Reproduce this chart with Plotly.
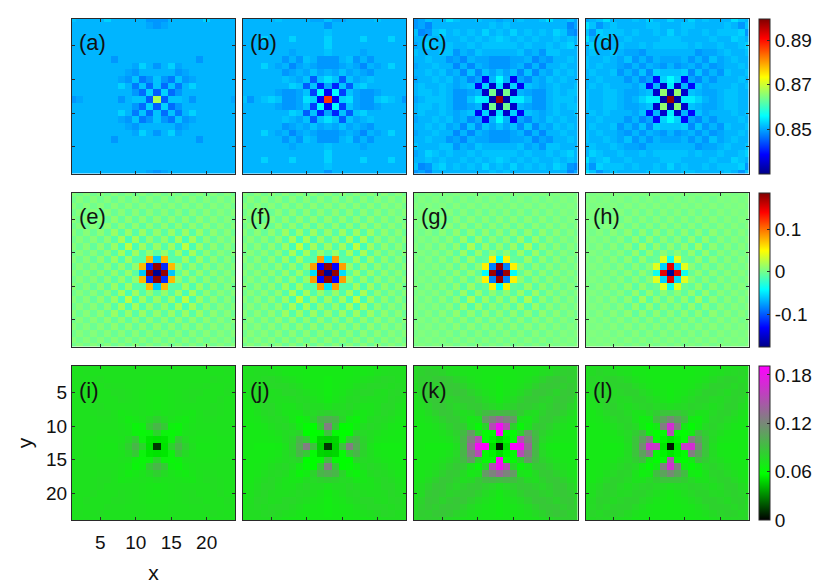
import plotly.graph_objects as go

# Values, in thousandths. Row = |y-13|, column = |x-13|; index 12 is the far edge.
Q_A = [
[868,845,852,852,851,849,851,851,851,851,851,850,849],
[845,853,846,849,851,851,851,851,851,851,851,851,851],
[852,846,852,847,851,853,851,851,851,851,851,851,851],
[852,849,847,852,849,850,851,851,851,851,851,851,851],
[851,851,851,849,850,851,851,851,851,851,851,851,851],
[849,851,853,850,851,851,851,851,851,851,851,851,851],
[851,851,851,851,851,851,849,851,851,851,851,851,851],
[851,851,851,851,851,851,851,851,851,851,851,851,851],
[851,851,851,851,851,851,851,851,851,851,851,851,851],
[851,851,851,851,851,851,851,851,851,851,851,851,851],
[851,851,851,851,851,851,851,851,851,851,851,851,851],
[849,850,851,851,851,851,851,851,851,851,851,851,851],
[849,849,851,851,851,851,851,853,851,851,851,851,852],
]
Q_B = [
[887,838,853,854,850,849,849,852,853,852,851,849,852],
[838,856,843,852,850,849,849,850,851,851,851,851,851],
[850,841,852,845,852,853,851,851,851,851,851,851,851],
[854,852,845,852,850,851,852,851,851,851,851,851,851],
[851,850,852,850,851,850,849,851,851,851,851,851,851],
[849,849,850,851,850,848,851,850,851,853,851,851,851],
[849,849,851,852,849,851,849,851,851,851,851,851,851],
[852,851,851,851,851,850,851,851,851,851,851,851,851],
[853,851,851,851,851,851,851,851,851,851,851,851,851],
[853,851,851,851,851,853,851,851,851,853,851,851,851],
[852,851,851,851,851,851,851,851,851,851,851,851,851],
[849,851,851,851,851,851,851,851,851,851,851,851,851],
[852,850,850,851,851,851,851,852,851,851,851,851,851],
]
Q_C = [
[897,832,855,855,852,849,849,851,852,852,852,851,850],
[832,864,835,851,850,849,849,851,852,851,852,852,851],
[854,835,853,838,852,851,850,851,852,851,851,852,851],
[856,851,838,850,848,851,850,852,851,852,851,851,850],
[852,850,852,848,852,848,851,850,852,851,852,851,851],
[849,849,850,851,848,851,848,851,851,852,851,851,850],
[849,849,850,850,851,848,850,849,851,851,852,851,851],
[851,851,851,852,850,851,849,852,852,851,851,851,852],
[852,852,852,851,852,851,851,852,851,852,853,851,850],
[853,852,851,852,851,852,851,851,852,851,852,851,851],
[852,851,853,851,852,851,852,851,853,852,849,848,852],
[851,852,851,851,851,851,851,851,851,851,848,850,849],
[850,851,851,852,851,851,852,854,851,851,852,850,849],
]
Q_D = [
[898,832,855,855,853,851,850,851,852,852,851,851,852],
[832,866,835,852,851,850,850,851,852,852,851,851,852],
[855,835,851,839,852,850,851,851,851,852,851,852,851],
[856,853,839,850,848,851,849,851,851,851,852,851,851],
[852,852,853,848,852,849,851,849,852,851,851,852,851],
[851,849,850,851,849,851,849,850,851,851,852,851,852],
[850,850,851,849,851,849,852,850,851,852,851,851,852],
[851,851,851,851,849,850,850,851,852,851,851,852,851],
[852,852,852,851,852,851,851,852,851,851,852,853,851],
[852,852,851,851,851,851,852,851,851,853,852,851,854],
[853,851,852,851,851,852,851,852,852,852,853,849,852],
[851,851,852,852,851,851,851,851,852,851,849,852,854],
[853,851,851,853,851,852,851,851,851,854,852,851,850],
]
Q_E = [
[-172,178,-60,-8,14,-8,12,-6,10,-3,8,-1,7],
[178,-115,75,12,-10,12,-8,10,-5,8,-2,7,0],
[-60,75,-8,-10,16,-12,14,-8,10,-5,8,-2,7],
[-8,12,-10,16,-14,18,-9,10,-5,8,-2,7,0],
[14,-10,16,-14,26,-14,14,-7,10,-5,8,-2,7],
[-8,12,-12,18,-14,18,-9,10,-5,8,-2,7,0],
[12,-8,14,-9,14,-9,14,-5,10,-3,8,-2,7],
[-6,10,-8,10,-7,10,-5,10,-3,8,-2,7,0],
[10,-5,10,-5,10,-5,10,-3,8,-2,7,0,7],
[-3,8,-5,8,-5,8,-3,8,-2,7,0,7,0],
[8,-2,8,-2,8,-2,8,-2,7,0,7,0,7],
[-1,7,-2,7,-2,7,-2,7,0,7,0,7,0],
[7,0,7,0,7,0,7,0,7,0,7,0,7],
]
Q_F = [
[-172,178,-52,-9,15,-9,13,-7,11,-4,9,-2,8],
[178,-130,85,13,-11,13,-9,11,-6,9,-3,8,0],
[-52,85,-8,-11,17,-13,15,-9,11,-6,9,-3,8],
[-9,13,-11,18,-15,19,-10,11,-6,9,-3,8,0],
[15,-11,17,-15,28,-15,15,-8,11,-6,9,-3,8],
[-9,13,-13,19,-15,19,-10,11,-6,9,-3,8,0],
[13,-9,15,-10,15,-10,15,-6,11,-4,9,-3,8],
[-7,11,-9,11,-8,11,-6,11,-4,9,-3,8,0],
[11,-6,11,-6,11,-6,11,-4,9,-3,8,0,8],
[-4,9,-6,9,-6,9,-4,9,-3,8,0,8,0],
[9,-3,9,-3,9,-3,9,-3,8,0,8,0,8],
[-2,8,-3,8,-3,8,-3,8,0,8,0,8,0],
[8,0,8,0,8,0,8,0,8,0,8,0,8],
]
Q_G = [
[-172,176,-40,-6,12,-6,10,-4,9,-2,7,0,6],
[176,-85,55,10,-8,10,-6,9,-3,7,0,6,2],
[-40,55,-4,-8,14,-9,11,-5,9,-3,7,0,6],
[-6,10,-8,14,-11,14,-7,9,-3,7,0,6,2],
[12,-8,14,-11,20,-11,11,-5,9,-3,7,0,6],
[-6,10,-9,14,-11,14,-7,9,-3,7,0,6,2],
[10,-6,11,-7,11,-7,11,-3,9,-2,7,0,6],
[-4,9,-5,9,-5,9,-3,9,-2,7,0,6,2],
[9,-3,9,-3,9,-3,9,-2,7,0,6,2,6],
[-2,7,-3,7,-3,7,-2,7,0,6,2,6,2],
[7,0,7,0,7,0,7,0,6,2,6,2,6],
[0,6,0,6,0,6,0,6,2,6,2,6,2],
[6,2,6,2,6,2,6,2,6,2,6,2,6],
]
Q_H = [
[-172,150,-35,-4,11,-5,9,-3,8,-1,7,1,6],
[150,-55,40,9,-6,9,-5,8,-2,7,1,6,3],
[-35,40,-2,-6,12,-8,10,-4,8,-2,7,1,6],
[-4,9,-6,12,-9,12,-6,8,-2,7,1,6,3],
[11,-6,12,-9,17,-9,10,-4,8,-2,7,1,6],
[-5,9,-8,12,-9,12,-6,8,-2,7,1,6,3],
[9,-5,10,-6,10,-6,10,-2,8,-1,7,1,6],
[-3,8,-4,8,-4,8,-2,8,-1,7,1,6,3],
[8,-2,8,-2,8,-2,8,-1,7,1,6,3,6],
[-1,7,-2,7,-2,7,-1,7,1,6,3,6,3],
[7,1,7,1,7,1,7,1,6,3,6,3,6],
[1,6,1,6,1,6,1,6,3,6,3,6,3],
[6,3,6,3,6,3,6,3,6,3,6,3,6],
]
Q_I = [
[13,51,80,95,82,74,70,70,71,72,72,73,73],
[51,52,64,85,76,72,71,71,71,72,72,73,73],
[80,64,62,65,72,73,72,72,72,73,73,73,73],
[95,85,65,63,70,72,73,73,73,73,73,73,73],
[82,76,72,70,68,71,73,74,74,73,73,73,73],
[74,72,73,72,71,70,73,75,75,74,73,73,73],
[70,71,72,73,73,73,73,73,75,74,73,73,73],
[70,71,72,73,74,75,73,73,73,75,73,73,73],
[71,71,72,73,74,75,75,73,73,73,75,73,73],
[72,72,73,73,73,74,74,75,73,73,74,73,73],
[72,72,73,73,73,73,73,73,75,74,73,74,73],
[73,73,73,73,73,73,73,73,73,73,74,73,73],
[73,73,73,73,73,73,73,73,73,73,73,73,73],
]
Q_J = [
[12,47,90,125,100,82,72,68,67,67,67,69,69],
[47,48,60,85,95,80,75,71,70,69,69,69,69],
[90,60,57,57,80,77,75,73,71,70,69,69,69],
[125,85,57,60,68,75,78,76,74,71,70,69,69],
[100,95,80,68,64,70,75,77,76,74,71,70,69],
[82,80,77,75,70,70,72,75,78,76,73,70,69],
[72,75,75,78,75,72,72,74,78,78,74,71,70],
[68,71,73,76,77,75,74,74,75,78,76,73,70],
[67,70,71,74,76,78,78,75,74,77,78,74,71],
[67,69,70,71,74,76,78,78,77,75,77,75,71],
[67,69,69,70,71,73,74,76,78,77,75,75,73],
[69,69,69,69,70,70,71,73,74,75,75,74,73],
[69,69,69,69,69,69,70,70,71,71,73,73,73],
]
Q_K = [
[5,50,190,185,135,92,74,69,68,68,68,70,70],
[50,55,60,152,122,95,78,73,71,70,70,70,70],
[190,60,60,80,110,92,81,76,73,71,70,70,70],
[185,152,80,62,72,84,85,81,76,73,71,70,70],
[135,122,110,72,70,76,84,85,81,76,73,71,71],
[92,95,92,84,76,74,81,85,86,81,76,72,71],
[74,78,81,85,84,81,78,82,86,85,80,75,72],
[69,73,76,81,85,85,82,80,84,86,84,76,73],
[68,71,73,76,81,86,86,84,80,85,86,80,75],
[68,70,71,73,76,81,85,86,85,82,85,82,76],
[68,70,70,71,73,76,80,84,86,85,82,83,78],
[70,70,70,71,71,72,75,76,80,82,83,81,78],
[70,70,70,70,71,71,72,73,75,76,78,78,76],
]
Q_L = [
[5,52,162,168,118,88,74,69,68,68,69,69,69],
[52,55,60,125,105,88,76,71,70,69,69,69,69],
[150,60,58,68,92,83,77,74,71,70,69,69,69],
[168,125,68,60,68,77,80,77,74,71,70,69,69],
[118,105,92,68,66,72,79,80,77,74,71,70,69],
[88,88,83,77,72,72,77,80,81,77,73,70,69],
[74,76,77,80,79,77,74,77,81,81,76,73,70],
[69,71,74,77,80,80,77,76,79,81,79,74,71],
[68,70,71,74,77,81,81,79,76,80,81,76,73],
[68,69,70,71,74,77,81,81,80,77,80,77,73],
[69,69,69,70,71,73,76,79,81,80,77,79,74],
[69,69,69,69,70,70,73,74,76,77,79,76,74],
[69,69,69,69,69,69,70,71,73,73,74,74,74],
]

LABELS = ["(a)","(b)","(c)","(d)","(e)","(f)","(g)","(h)","(i)","(j)","(k)","(l)"]
PANELS = [Q_A,Q_B,Q_C,Q_D,Q_E,Q_F,Q_G,Q_H,Q_I,Q_J,Q_K,Q_L]
GRID = list(range(1,25))
TICKS = [5,10,15,20]
CB_TICKS = [[0.85,0.87,0.89],[-0.1,0,0.1],[0,0.06,0.12,0.18]]
CB_TEXT = [["0.85","0.87","0.89"],["-0.1","0","0.1"],["0","0.06","0.12","0.18"]]
CB_RANGE = [(0.83,0.8995),(-0.176,0.186),(0,0.191)]

W,H = 817,587
COLS = [(72,235),(243,406),(414,577.5),(585.5,748.5)]
ROWS = [(19,173.5),(192.5,346.5),(366,520)]
JET = [[0,"rgb(0,0,135)"],[0.125,"rgb(0,0,255)"],[0.375,"rgb(0,255,255)"],
       [0.625,"rgb(255,255,0)"],[0.875,"rgb(255,0,0)"],[1,"rgb(128,0,0)"]]
GM = [[0,"rgb(0,0,0)"],[0.3,"rgb(0,255,0)"],[0.65,"rgb(128,128,128)"],[1,"rgb(255,0,255)"]]
FONT = "Liberation Sans"
LINE = "#2a2a2a"

def expand(q):
    return [[q[abs(j-12)][abs(i-12)]/1000 for i in range(24)] for j in range(24)]

fig = go.Figure()
lay = dict(width=W,height=H,margin=dict(l=0,r=0,t=0,b=0),paper_bgcolor="white",plot_bgcolor="white",
           font=dict(family=FONT,size=19,color="#111"),annotations=[])
for n,(q,lab) in enumerate(zip(PANELS,LABELS)):
    r,c = n//4,n%4
    sx = "" if n==0 else str(n+1)
    ca = "coloraxis" if r==0 else "coloraxis%d"%(r+1)
    fig.add_trace(go.Heatmap(z=expand(q),x=GRID,y=GRID,coloraxis=ca,xaxis="x"+sx,yaxis="y"+sx,hoverinfo="skip"))
    x0,x1 = COLS[c]; y0,y1 = ROWS[r]
    labelled = n==8
    lay["xaxis"+sx] = dict(domain=[x0/W,x1/W],range=[1,24],anchor="y"+sx,tickvals=TICKS,ticks="inside",ticklen=3,
        tickcolor=LINE,showline=True,mirror="ticks",linecolor=LINE,linewidth=1,showgrid=False,zeroline=False,
        showticklabels=labelled,tickfont=dict(size=19),ticklabelstandoff=5 if labelled else None,
        title=dict(text="x",standoff=13,font=dict(size=21)) if labelled else None)
    lay["yaxis"+sx] = dict(domain=[1-y1/H,1-y0/H],range=[24,1],anchor="x"+sx,tickvals=TICKS,ticks="inside",ticklen=3,
        tickcolor=LINE,showline=True,mirror="ticks",linecolor=LINE,linewidth=1,showgrid=False,zeroline=False,
        showticklabels=labelled,tickfont=dict(size=19),
        title=dict(text="y",standoff=7,font=dict(size=21)) if labelled else None)
    lay["annotations"].append(dict(text=lab,xref="paper",yref="paper",x=(x0+5)/W,y=1-(y0+24)/H,xanchor="left",yanchor="middle",
        showarrow=False,font=dict(size=22,family=FONT,color="#111")))
for r in range(3):
    key = "coloraxis" if r==0 else "coloraxis%d"%(r+1)
    y0,y1 = ROWS[r]
    lay[key] = dict(cmin=CB_RANGE[r][0],cmax=CB_RANGE[r][1],colorscale=GM if r==2 else JET,
        colorbar=dict(x=759/W,xanchor="left",xpad=0,ypad=0,thickness=11,thicknessmode="pixels",
            lenmode="fraction",len=(y1-y0)/H,y=1-y0/H,yanchor="top",tickmode="array",tickvals=CB_TICKS[r],ticktext=CB_TEXT[r],
            ticks="inside",ticklen=3,tickcolor=LINE,outlinecolor=LINE,outlinewidth=1,tickfont=dict(size=19,family=FONT,color="#111")))
fig.update_layout(**lay)
fig.write_html("out.html",config={"displayModeBar":False},post_script="document.body.style.margin='0';")
